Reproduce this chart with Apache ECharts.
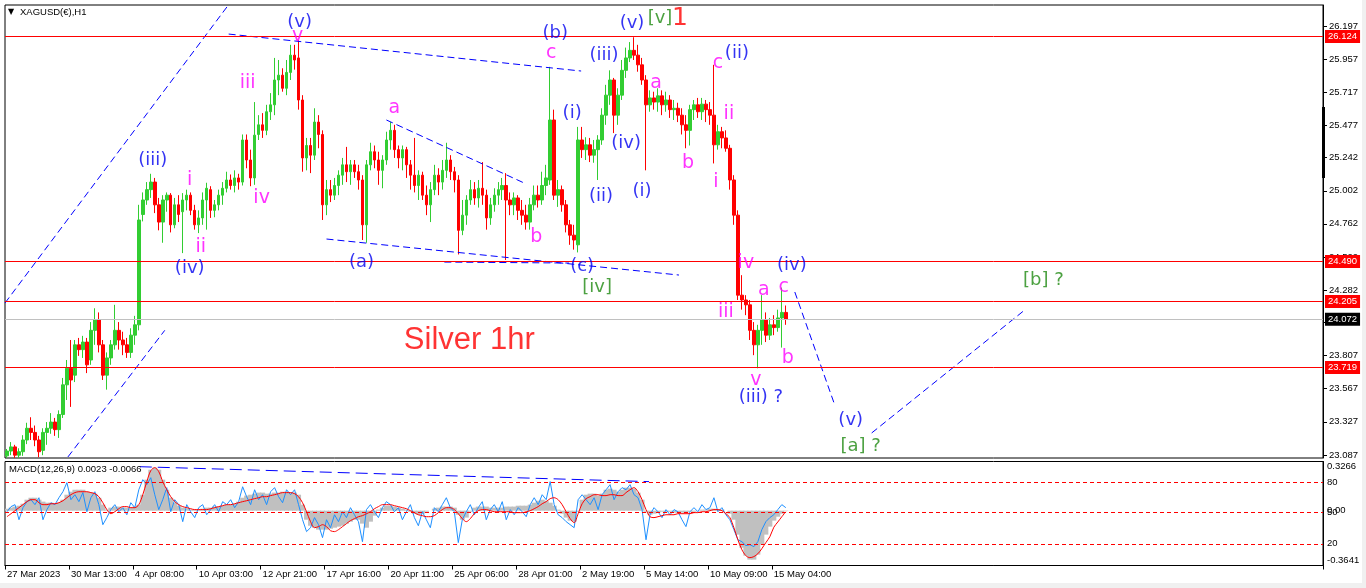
<!DOCTYPE html>
<html><head><meta charset="utf-8">
<script src="https://cdn.jsdelivr.net/npm/echarts@6/dist/echarts.min.js"></script>
<style>html,body{margin:0;padding:0;background:#fff;}#c{width:1366px;height:588px;}</style>
</head><body><div id="c"></div>
<script>
// ---------------- data ----------------
const timeLabels = ['27 Mar 2023','30 Mar 13:00','4 Apr 08:00','10 Apr 03:00','12 Apr 21:00','17 Apr 16:00','20 Apr 11:00','25 Apr 06:00','28 Apr 01:00','2 May 19:00','5 May 14:00','10 May 09:00','15 May 04:00'];
const barsPerLabel = 16;
const slotCount = 330;
const priceTicks = [26.197,25.957,25.717,25.477,25.242,25.002,24.762,24.522,24.282,24.047,23.807,23.567,23.327,23.087];
const priceRange = [23.0645, 26.3487];
const priceLevels = [26.124, 24.490, 24.205, 23.719];
const lastPrice = 24.072;
// [open, close, low, high]
const ohlc = [
[23.08,23.115,23.065,23.13],[23.115,23.145,23.085,23.18],[23.145,23.085,23.065,23.16],[23.085,23.11,23.065,23.135],
[23.11,23.195,23.08,23.23],[23.195,23.28,23.165,23.32],[23.28,23.25,23.195,23.36],[23.25,23.195,23.15,23.30],
[23.195,23.11,23.07,23.225],[23.12,23.25,23.085,23.28],[23.25,23.28,23.16,23.325],[23.28,23.325,23.24,23.39],
[23.325,23.27,23.225,23.355],[23.27,23.38,23.21,23.41],[23.38,23.595,23.355,23.645],[23.595,23.715,23.485,23.775],
[23.715,23.63,23.435,23.92],[23.665,23.885,23.615,23.92],[23.885,23.85,23.805,23.935],[23.85,23.905,23.79,23.95],
[23.905,23.74,23.68,23.935],[23.775,23.99,23.74,24.05],[23.99,24.065,23.885,24.15],[24.065,23.885,23.83,24.12],
[23.885,23.665,23.63,23.92],[23.665,23.79,23.56,23.83],[23.79,23.885,23.74,23.92],[23.885,23.99,23.85,24.175],
[23.99,23.92,23.85,24.05],[23.92,23.885,23.81,23.98],[23.885,23.83,23.79,23.935],[23.83,23.955,23.79,24.005],
[23.955,24.03,23.885,24.095],[24.03,24.79,23.99,24.90],[24.83,24.935,24.78,24.99],[24.935,25.01,24.90,25.065],
[25.01,25.065,24.95,25.125],[25.065,24.90,24.84,25.095],[24.90,24.775,24.715,24.95],[24.775,24.935,24.625,24.97],
[24.935,24.97,24.85,24.99],[24.97,24.755,24.70,24.985],[24.755,24.90,24.73,24.95],[24.90,24.83,24.775,24.97],
[24.85,24.935,24.55,24.985],[24.935,24.97,24.86,25.01],[24.97,24.86,24.825,24.99],[24.86,24.755,24.72,24.90],
[24.755,24.805,24.695,24.86],[24.805,24.935,24.755,24.99],[24.935,25.02,24.72,25.06],[25.01,24.86,24.805,25.035],
[24.86,24.90,24.81,24.935],[24.90,24.97,24.86,25.01],[24.97,25.02,24.90,25.065],[25.02,25.08,24.99,25.14],
[25.08,25.04,25.01,25.12],[25.04,25.095,24.99,25.15],[25.095,25.065,25.01,25.125],[25.065,25.37,25.04,25.41],
[25.37,25.225,25.165,25.41],[25.225,25.095,25.035,25.30],[25.095,25.405,25.045,25.645],[25.41,25.48,25.37,25.55],
[25.48,25.44,25.385,25.565],[25.44,25.575,25.405,25.625],[25.575,25.625,25.515,25.71],[25.625,25.805,25.55,25.965],
[25.805,25.84,25.695,25.95],[25.84,25.745,25.72,25.89],[25.745,25.86,25.695,25.95],[25.86,25.985,25.805,26.06],
[25.985,25.95,25.88,26.06],[25.965,25.66,25.59,26.095],[25.66,25.24,25.14,25.695],[25.24,25.33,25.15,25.385],
[25.33,25.26,25.13,25.385],[25.26,25.50,25.225,25.60],[25.50,25.41,25.31,25.55],[25.41,24.90,24.79,25.44],
[24.90,25.01,24.825,25.08],[25.01,24.97,24.92,25.08],[24.97,25.04,24.935,25.095],[25.04,25.115,24.97,25.15],
[25.115,25.19,25.045,25.24],[25.19,25.14,25.065,25.32],[25.14,25.19,25.045,25.225],[25.19,25.14,25.095,25.225],
[25.14,25.08,25.01,25.19],[25.08,24.755,24.645,25.115],[24.755,25.19,24.625,25.225],[25.19,25.285,25.15,25.35],
[25.285,25.225,25.165,25.33],[25.225,25.15,25.045,25.285],[25.15,25.225,25.02,25.26],[25.225,25.37,25.19,25.43],
[25.37,25.44,25.30,25.50],[25.44,25.30,25.24,25.48],[25.30,25.24,25.165,25.33],[25.24,25.30,25.15,25.33],
[25.30,25.19,25.095,25.32],[25.19,25.115,25.01,25.225],[25.115,25.04,24.99,25.385],[25.04,25.115,24.935,25.15],
[25.115,24.97,24.935,25.14],[24.97,24.90,24.825,25.04],[24.90,25.01,24.775,25.065],[25.01,25.115,24.97,25.19],
[25.115,25.065,24.97,25.165],[25.065,25.15,25.01,25.225],[25.15,25.225,25.095,25.35],[25.225,25.14,25.08,25.26],
[25.14,25.08,24.99,25.175],[25.08,24.715,24.54,25.115],[24.715,24.825,24.68,24.935],[24.825,24.935,24.755,24.97],
[24.935,25.01,24.90,25.08],[25.01,24.95,24.90,25.065],[24.95,25.02,24.88,25.08],[25.02,24.97,24.90,25.21],
[24.97,24.805,24.72,25.01],[24.805,24.90,24.755,24.95],[24.90,24.97,24.85,25.02],[24.97,25.01,24.90,25.065],
[25.01,25.04,24.935,25.095],[25.04,24.935,24.50,25.13],[24.935,24.90,24.825,24.99],[24.90,24.95,24.825,24.99],
[24.95,24.86,24.79,24.97],[24.86,24.825,24.755,24.935],[24.825,24.775,24.72,24.90],[24.775,24.90,24.72,24.95],
[24.90,24.97,24.86,25.04],[24.97,24.935,24.88,25.04],[24.935,25.04,24.90,25.14],[25.04,25.095,24.97,25.19],
[25.08,25.515,25.045,25.90],[25.515,24.97,24.935,25.59],[24.97,25.01,24.885,25.08],[25.01,24.90,24.85,25.04],
[24.90,24.755,24.70,24.935],[24.755,24.68,24.61,24.79],[24.68,24.645,24.575,24.755],[24.61,25.37,24.555,25.465],
[25.37,25.30,25.24,25.465],[25.30,25.335,25.225,25.39],[25.335,25.26,25.21,25.385],[25.26,25.30,25.205,25.37],
[25.30,25.37,25.08,25.405],[25.37,25.55,25.335,25.60],[25.55,25.695,25.48,25.77],[25.695,25.805,25.625,25.875],
[25.805,25.55,25.42,25.82],[25.55,25.695,25.48,25.745],[25.695,25.875,25.66,25.95],[25.875,25.965,25.82,26.04],
[25.965,26.02,25.935,26.08],[26.02,25.985,25.95,26.115],[25.985,25.915,25.865,26.06],[25.915,25.805,25.77,25.965],
[25.805,25.625,25.15,25.84],[25.625,25.675,25.575,25.73],[25.675,25.645,25.59,25.72],[25.645,25.69,25.575,25.745],
[25.69,25.625,25.55,25.73],[25.625,25.66,25.575,25.72],[25.66,25.59,25.53,25.695],[25.59,25.60,25.515,25.66],
[25.60,25.55,25.50,25.64],[25.55,25.48,25.41,25.60],[25.48,25.44,25.31,25.55],[25.44,25.59,25.33,25.625],
[25.59,25.625,25.515,25.66],[25.625,25.575,25.53,25.675],[25.575,25.63,25.515,25.675],[25.63,25.59,25.50,25.66],
[25.59,25.55,25.48,25.645],[25.55,25.335,25.20,25.915],[25.335,25.43,25.30,25.48],[25.43,25.385,25.31,25.465],
[25.385,25.31,25.285,25.44],[25.31,25.08,25.01,25.335],[25.08,24.825,24.755,25.115],[24.825,24.245,24.21,24.86],
[24.245,24.21,24.14,24.39],[24.21,24.175,24.10,24.245],[24.175,23.99,23.92,24.21],[23.99,23.885,23.81,24.05],
[23.885,23.99,23.715,24.03],[23.99,24.065,23.885,24.245],[24.065,23.955,23.905,24.12],[23.955,24.03,23.92,24.08],
[24.03,24.01,23.955,24.10],[24.01,24.08,23.98,24.14],[24.08,24.12,23.865,24.30],[24.12,24.072,24.03,24.17]
];
const macdHist = [
0.013,0.020,0.027,0.033,0.046,0.073,0.086,0.086,0.073,0.060,
0.053,0.053,0.046,0.053,0.073,0.106,0.126,0.139,0.139,0.139,
0.126,0.120,0.113,0.086,0.040,0.007,0.020,0.027,0.027,0.020,
0.020,0.020,0.027,0.040,0.106,0.206,0.272,0.286,0.272,0.206,
0.139,0.086,0.053,0.033,0.020,0.013,0.007,0.007,0.007,0.013,
0.020,0.020,0.027,0.027,0.033,0.040,0.040,0.046,0.060,0.086,
0.100,0.106,0.113,0.120,0.120,0.113,0.113,0.120,0.120,0.126,
0.126,0.120,0.120,0.106,0.040,-0.060,-0.100,-0.113,-0.126,-0.126,
-0.126,-0.120,-0.113,-0.106,-0.100,-0.086,-0.073,-0.060,-0.060,-0.086,
-0.113,-0.073,-0.033,0.007,0.020,0.033,0.033,0.027,0.020,0.013,
0.007,-0.007,-0.020,-0.027,-0.020,-0.007,0,0.013,0.020,0.027,
0.027,0.027,0.020,-0.027,-0.060,-0.046,-0.007,0.020,0.027,0.027,
0.027,0.020,0.020,0.020,0.020,0.027,0.027,0.027,0.033,0.033,
0.033,0.040,0.053,0.066,0.073,0.066,0.053,0.033,0.007,-0.020,
-0.046,-0.066,-0.073,-0.007,0.073,0.106,0.113,0.113,0.100,0.113,
0.139,0.146,0.139,0.126,0.139,0.153,0.153,0.146,0.120,0.073,
-0.007,-0.027,-0.020,-0.013,-0.007,-0.007,-0.007,-0.013,-0.013,-0.013,
-0.013,-0.007,-0.007,0,0.007,0.007,0.013,0.013,0.007,0.007,
0,-0.020,-0.060,-0.159,-0.246,-0.299,-0.325,-0.325,-0.292,-0.226,
-0.159,-0.106,-0.066,-0.040,-0.020,0.002
];
const macdSignal = [
-0.040,-0.020,0,0.020,0.040,0.060,0.073,0.073,0.053,0.040,
0.040,0.046,0.046,0.053,0.066,0.086,0.106,0.120,0.126,0.126,
0.126,0.120,0.113,0.093,0.053,0.007,-0.020,-0.007,0.013,0.027,
0.027,0.020,0.020,0.040,0.106,0.193,0.266,0.286,0.259,0.193,
0.139,0.093,0.060,0.040,0.027,0.020,0.013,0.007,0.007,0.007,
0.007,0.013,0.020,0.027,0.033,0.040,0.040,0.046,0.053,0.060,
0.066,0.073,0.080,0.086,0.093,0.093,0.100,0.106,0.113,0.120,
0.120,0.120,0.113,0.093,0.053,-0.007,-0.073,-0.113,-0.106,-0.093,
-0.106,-0.133,-0.139,-0.126,-0.106,-0.086,-0.066,-0.053,-0.040,-0.033,
-0.020,-0.007,0.013,0.027,0.040,0.040,0.040,0.033,0.027,0.020,
0.013,0,-0.013,-0.027,-0.033,-0.040,-0.040,-0.033,-0.013,0.007,
0.020,0.020,0.007,-0.020,-0.053,-0.073,-0.053,-0.020,0,0.007,
0.007,0,-0.007,-0.007,-0.007,-0.007,-0.007,-0.013,-0.013,-0.013,
-0.007,0,0.013,0.027,0.046,0.060,0.080,0.086,0.073,0.040,
-0.007,-0.053,-0.080,-0.020,0.046,0.080,0.093,0.106,0.106,0.100,
0.100,0.106,0.106,0.100,0.100,0.120,0.139,0.153,0.126,0.073,
0.007,-0.040,-0.046,-0.040,-0.033,-0.027,-0.027,-0.027,-0.020,-0.020,
-0.020,-0.020,-0.013,-0.013,-0.007,-0.007,0,0.007,0.007,0,
-0.020,-0.046,-0.113,-0.193,-0.259,-0.299,-0.312,-0.305,-0.286,-0.252,
-0.212,-0.173,-0.110,-0.075,-0.040,-0.007
];
const macdFast = [
-0.007,0.027,0.040,-0.060,0.020,0.060,0.073,0.040,0.086,-0.060,
0.007,0.053,0.040,0.086,0.126,0.186,0.073,0.106,0.060,0.120,
-0.007,0.086,0.126,0.040,-0.093,-0.046,0.007,0.040,-0.007,0.020,
-0.027,0.053,0.020,0.139,0.206,0.173,0.219,0.106,0.007,0.073,
0.153,-0.007,0.073,0.040,-0.073,0.040,-0.007,-0.046,0.020,0.040,
-0.027,0.007,0.040,-0.007,0.060,0.040,0.073,0.020,0.060,0.159,
0.093,0.040,0.139,0.073,0.106,0.040,0.126,0.153,0.093,0.053,
0.139,0.106,0.139,0.040,-0.060,-0.139,-0.113,-0.046,-0.093,-0.179,
-0.060,-0.113,-0.027,-0.073,-0.007,-0.046,0.020,-0.027,-0.073,-0.206,
0.007,0.040,-0.007,-0.046,0.020,0.060,0.040,-0.007,0.020,-0.060,
-0.007,0.040,-0.046,-0.100,-0.007,-0.060,-0.113,0.020,-0.007,0.040,
0.086,0.020,-0.007,-0.212,-0.060,-0.007,0.040,-0.027,0.020,0.060,
-0.060,0.007,0.040,-0.007,0.060,-0.060,0.007,-0.027,0.020,-0.007,
-0.040,0.040,0.086,0.040,0.106,0.073,0.193,0.040,-0.027,-0.046,
-0.073,-0.093,-0.113,0.073,0.106,0.073,0.040,0.086,0.007,0.106,
0.139,0.173,0.073,0.126,0.153,0.139,0.173,0.106,0.086,0.007,
-0.193,-0.027,0.020,-0.007,-0.046,0.007,-0.027,0.007,-0.007,-0.060,
-0.106,-0.007,0.020,-0.007,0.040,0.007,0.020,0.086,-0.007,0.020,
-0.027,-0.060,-0.126,-0.193,-0.206,-0.232,-0.226,-0.239,-0.206,-0.126,
-0.073,-0.046,-0.027,0.007,0.040,0.020
];
const macdRange = [-0.3641, 0.3266];
const macdTicks = [-0.3641, 0, 0.3266];
const macdLevels = [[0.193,'80'],[-0.007,'50'],[-0.219,'20']];
// trend lines: [[barIndex, price],[barIndex, price]]
const trendLines = [
[[-0.5,24.188],[55.25,26.3415]],
[[15.25,23.072],[39.5,23.99]],
[[55.5,26.138],[143.75,25.870]],
[[80,24.652],[168.25,24.391]],
[[95,25.515],[129.5,25.058]],
[[109.5,24.485],[140.75,24.478]],
[[197.25,24.268],[207.25,23.449]],
[[216.5,23.246],[254.5,24.13]]
];
const macdTrend = [[33.25,0.292],[160.75,0.193]];
// wave labels: [barIndex, price, text, kind]
const waveLabels = [
[73.25,26.226,'(v)','w'],[36.5,25.225,'(iii)','w'],[45.75,24.442,'(iv)','w'],[88.75,24.486,'(a)','w'],
[137.25,26.146,'(b)','w'],[144,24.457,'(c)','w'],[141.5,25.566,'(i)','w'],[148.75,24.964,'(ii)','w'],
[149.5,25.986,'(iii)','w'],[155,25.348,'(iv)','w'],[156.5,26.218,'(v)','w'],[159,25.00,'(i)','w'],
[182.75,26.001,'(ii)','w'],[196.5,24.464,'(iv)','w'],[188.75,23.507,'(iii) ?','w'],[211.25,23.34,'(v)','w'],
[72.75,26.124,'v','m'],[60.25,25.783,'iii','m'],[45.75,25.08,'i','m'],[48.5,24.594,'ii','m'],
[63.75,24.95,'iv','m'],[97,25.602,'a','m'],[132.5,24.667,'b','m'],[136.25,26.001,'c','m'],
[162.5,25.783,'a','m'],[170.5,25.203,'b','m'],[178,25.928,'c','m'],[180.75,25.559,'ii','m'],
[177.5,25.066,'i','m'],[185,24.478,'iv','m'],[180,24.123,'iii','m'],[189.5,24.283,'a','m'],
[194.5,24.304,'c','m'],[195.5,23.79,'b','m'],[187.5,23.63,'v','m'],
[163.5,26.254,'[v]','g'],[147.75,24.304,'[iv]','g'],[259.5,24.355,'[b] ?','g'],[213.75,23.152,'[a] ?','g'],
[168.5,26.254,'1','r'],[115.75,23.92,'Silver 1hr','t']
];
const headerText = 'XAGUSD(\u20ac),H1';
const macdTitle = 'MACD(12,26,9) 0.0023 -0.0066';

// ---------------- chart ----------------
const categories = Array.from({length: slotCount}, (_, i) =>
  (i % barsPerLabel === 0 && i / barsPerLabel < timeLabels.length) ? timeLabels[i / barsPerLabel] : '');
const showIdx = (i, v) => v !== '';
const FONT = 'Liberation Sans';
const kindStyle = {
  w: {color:'#0000f0', fontSize:18, fontFamily:'DejaVu Sans'},
  m: {color:'#ff00ff', fontSize:19, fontFamily:'DejaVu Sans'},
  g: {color:'#1f8a12', fontSize:18, fontFamily:'DejaVu Sans'},
  r: {color:'#ff0000', fontSize:25, fontFamily:'DejaVu Sans'},
  t: {color:'#ff0000', fontSize:31, fontFamily:'Liberation Sans'}
};
const priceLabel = (bg) => ({show:true, position:'end', distance:2, color:'#fff', backgroundColor:bg,
  padding:[2,3,1,3], fontSize:9.5, fontFamily:FONT});

const series = [];
series.push({
  type:'candlestick', xAxisIndex:0, yAxisIndex:0, data: ohlc, barWidth: 3,
  itemStyle:{color:'#32cd32', color0:'#ff0000', borderColor:'#32cd32', borderColor0:'#ff0000', borderWidth:1},
  silent:true,
  markLine:{
    silent:true, symbol:['none','none'], animation:false,
    data: priceLevels.map(v => ({yAxis:v, lineStyle:{color:'#ff0000', width:1, type:'solid'},
      label:Object.assign(priceLabel('#ff0000'), {formatter: v.toFixed(3)})}))
      .concat([{yAxis:lastPrice, lineStyle:{color:'#c0c0c0', width:1, type:'solid'},
      label:Object.assign(priceLabel('#000000'), {formatter: lastPrice.toFixed(3)})}])
  }
});
trendLines.forEach(seg => series.push({
  type:'line', xAxisIndex:1, yAxisIndex:0, data: seg, symbol:'none', silent:true, z:3,
  lineStyle:{color:'#0000ff', width:1, type:[7,4]}
}));
series.push({
  type:'scatter', xAxisIndex:1, yAxisIndex:0, symbolSize:1, silent:true, z:6,
  itemStyle:{color:'rgba(0,0,0,0)'},
  data: waveLabels.map(([x, y, t, k]) => ({value:[x, y],
    label:Object.assign({show:true, position:'inside', formatter:t}, kindStyle[k])}))
});
series.push({
  type:'bar', xAxisIndex:2, yAxisIndex:1, data: macdHist, barWidth:5, silent:true,
  itemStyle:{color:'#c0c0c0'},
  markLine:{silent:true, symbol:['none','none'], animation:false,
    data: macdLevels.map(([v, t]) => ({yAxis:v, lineStyle:{color:'#ff0000', width:1, type:[4,3]},
      label:{show:true, position:'end', distance:4, formatter:t, color:'#000', fontSize:9.5, fontFamily:FONT}}))}
});
series.push({type:'line', xAxisIndex:2, yAxisIndex:1, data: macdSignal, symbol:'none', smooth:0.3, silent:true,
  lineStyle:{color:'#ff0000', width:1}, z:4});
series.push({type:'line', xAxisIndex:2, yAxisIndex:1, data: macdFast, symbol:'none', silent:true,
  lineStyle:{color:'#1e90ff', width:1}, z:3});
series.push({type:'line', xAxisIndex:3, yAxisIndex:1, data: macdTrend, symbol:'none', silent:true,
  lineStyle:{color:'#0000ff', width:1, type:[12,6]}, z:5});

const chart = echarts.init(document.getElementById('c'), null, {width:1366, height:588});
chart.setOption({
  animation:false,
  backgroundColor:'#ffffff',
  grid:[
    {left:5, right:43, top:5, height:453, show:true, borderColor:'#000', borderWidth:1, backgroundColor:'#fff'},
    {left:5, right:43, top:461.5, height:104, show:true, borderColor:'#000', borderWidth:1, backgroundColor:'#fff'}
  ],
  xAxis:[
    {type:'category', gridIndex:0, data:categories, boundaryGap:true, show:false, axisLine:{onZero:false}},
    {type:'value', gridIndex:0, min:-0.5, max:slotCount-0.5, show:false, axisLine:{onZero:false},
      splitLine:{show:false}, axisTick:{show:false}, axisLabel:{show:false}},
    {type:'category', gridIndex:1, data:categories, boundaryGap:true,
      axisLine:{show:true, onZero:false, lineStyle:{color:'#000'}},
      axisTick:{show:true, interval:showIdx, length:4, lineStyle:{color:'#000'}},
      axisLabel:{interval:showIdx, align:'left', margin:4, fontSize:9.5, fontFamily:FONT, color:'#000'},
      splitLine:{show:false}},
    {type:'value', gridIndex:1, min:-0.5, max:slotCount-0.5, show:false, axisLine:{onZero:false},
      splitLine:{show:false}, axisTick:{show:false}, axisLabel:{show:false}}
  ],
  yAxis:[
    {type:'value', gridIndex:0, position:'right', min:priceRange[0], max:priceRange[1],
      axisLine:{show:true, onZero:false, lineStyle:{color:'#000'}},
      axisTick:{show:true, customValues:priceTicks, length:4, lineStyle:{color:'#000'}},
      axisLabel:{customValues:priceTicks, formatter:v => v.toFixed(3), margin:6, fontSize:9.5, fontFamily:FONT, color:'#000'},
      splitLine:{show:false}, minorTick:{show:false}, minorSplitLine:{show:false}},
    {type:'value', gridIndex:1, position:'right', min:macdRange[0], max:macdRange[1],
      axisLine:{show:true, onZero:false, lineStyle:{color:'#000'}},
      axisTick:{show:false},
      axisLabel:{customValues:macdTicks, formatter:v => (v === 0 ? '0.00' : String(v)), margin:4,
        verticalAlignMinLabel:'bottom', verticalAlignMaxLabel:'top',
        fontSize:9.5, fontFamily:FONT, color:'#000'},
      splitLine:{show:false}}
  ],
  graphic:[
    {type:'rect', shape:{x:1362, y:0, width:4, height:588}, style:{fill:'#f0f0f0'}, silent:true},
    {type:'rect', shape:{x:0, y:583, width:1366, height:5}, style:{fill:'#f0f0f0'}, silent:true},
    {type:'rect', shape:{x:1322, y:107, width:3, height:71}, style:{fill:'#000'}, silent:true, z:10},
    {type:'text', left:8, top:8, style:{text:'\u25bc', fill:'#000', font:'8px "DejaVu Sans"'}, silent:true, z:10},
    {type:'text', left:20, top:7, style:{text:headerText, fill:'#000', font:'9.5px "Liberation Sans"'}, silent:true, z:10},
    {type:'text', left:9, top:464, style:{text:macdTitle, fill:'#000', font:'9.5px "Liberation Sans"'}, silent:true, z:10}
  ],
  series: series
});
</script>
</body></html>
